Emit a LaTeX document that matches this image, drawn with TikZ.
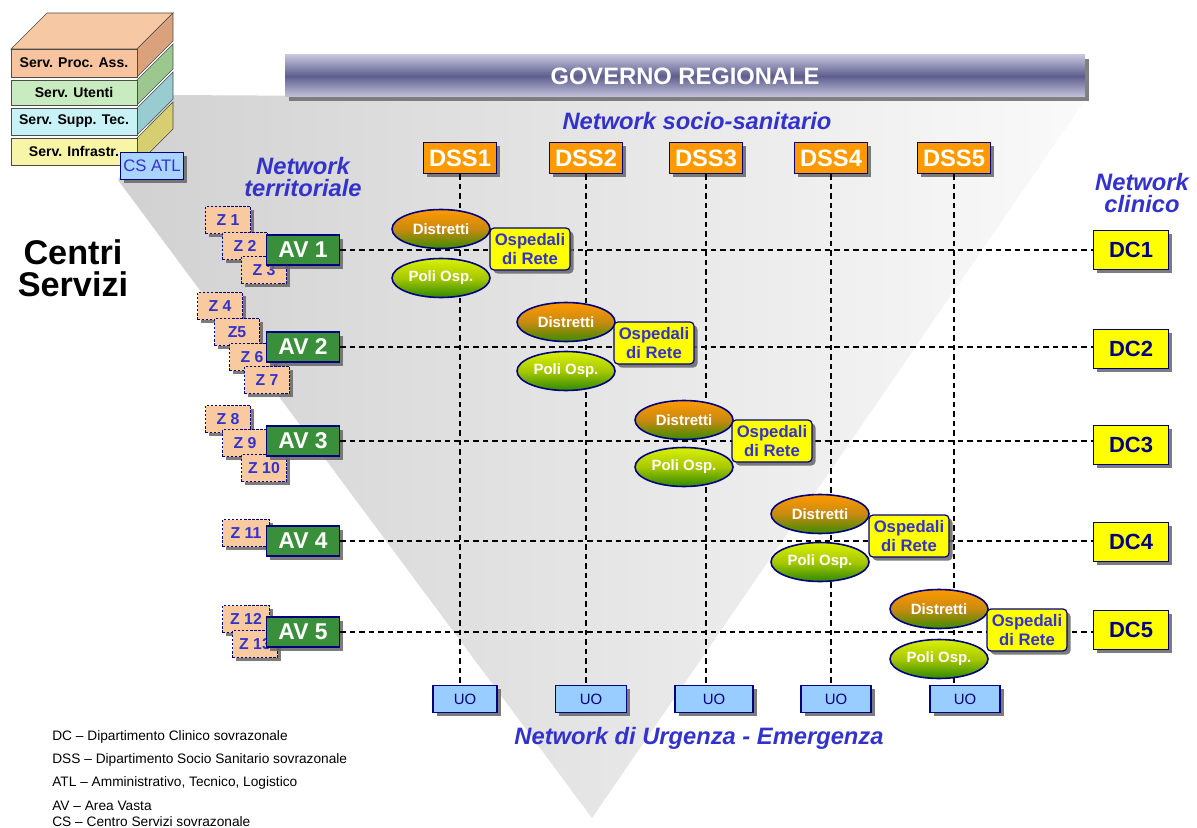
\documentclass[tikz,border=0pt]{standalone}
\usepackage{fontspec}
\setmainfont{Liberation Sans}
\usetikzlibrary{shapes.geometric,shadows,calc}
\definecolor{tblue}{HTML}{3333CC}
\definecolor{navy}{HTML}{000080}
\definecolor{dssor}{HTML}{FF9900}
\definecolor{avgreen}{HTML}{3A8F3A}
\definecolor{zpeach}{HTML}{F9C9A0}
\definecolor{uoblue}{HTML}{99CCFF}
\definecolor{csblue}{HTML}{A8D4FF}
\definecolor{dyellow}{HTML}{FFFF00}
\definecolor{dtop}{HTML}{FF9900}
\definecolor{dmid}{HTML}{C88A10}
\definecolor{dbot}{HTML}{3A8C00}
\definecolor{ptop}{HTML}{D8F000}
\definecolor{pmid}{HTML}{A8C800}
\definecolor{pbot}{HTML}{2E8A00}
\definecolor{bannerA}{HTML}{C4C4DC}
\definecolor{bannerB}{HTML}{5E5E8E}
\definecolor{lproc}{HTML}{F8C4A0}
\definecolor{lprocs}{HTML}{D9A27C}
\definecolor{luten}{HTML}{C8EBC0}
\definecolor{lutens}{HTML}{9CC890}
\definecolor{lsupp}{HTML}{C8F2F6}
\definecolor{lsupps}{HTML}{98CCD0}
\definecolor{linfr}{HTML}{F8F4A8}
\definecolor{linfrs}{HTML}{D6CE70}
\definecolor{ltop}{HTML}{F6C8A4}
\tikzset{
  sh/.style={drop shadow={shadow xshift=0.07cm,shadow yshift=-0.07cm,fill=black!60,opacity=0.85}},
  dssbox/.style={sh,fill=dssor,draw=navy,line width=0.6pt,text=white,font=\bfseries\fontsize{13.5}{14}\selectfont,minimum width=73*0.02cm,minimum height=31*0.02cm,inner sep=0pt},
  avbox/.style={sh,fill=avgreen,draw=navy,line width=0.9pt,text=white,font=\bfseries\fontsize{13}{14}\selectfont,minimum width=73*0.02cm,minimum height=30*0.02cm,inner sep=0pt},
  zbox/.style={sh,fill=zpeach,draw=navy,line width=0.7pt,dash pattern=on 1.5pt off 0.8pt,text=tblue,font=\bfseries\fontsize{9}{10}\selectfont,minimum width=45*0.02cm,minimum height=27*0.02cm,inner sep=0pt},
  dcbox/.style={sh,fill=dyellow,draw=navy,line width=0.7pt,text=navy,font=\bfseries\fontsize{12.5}{13}\selectfont,minimum width=75*0.02cm,minimum height=39*0.02cm,inner sep=0pt},
  ospbox/.style={sh,fill=dyellow,draw=navy,line width=0.7pt,rounded corners=0.08cm,text=tblue,font=\bfseries\fontsize{9.5}{11.3}\selectfont,align=center,minimum width=80*0.02cm,minimum height=42*0.02cm,inner sep=0pt},
  distr/.style={ellipse,draw=navy,line width=0.9pt,top color=dtop,bottom color=dbot,middle color=dmid,text=white,font=\bfseries\fontsize{8.5}{9}\selectfont,minimum width=98*0.02cm,minimum height=39*0.02cm,inner sep=0pt},
  poli/.style={ellipse,draw=navy,line width=0.9pt,top color=ptop,bottom color=pbot,middle color=pmid,text=white,font=\bfseries\fontsize{8.5}{9}\selectfont,minimum width=98*0.02cm,minimum height=39*0.02cm,inner sep=0pt},
  uobox/.style={sh,fill=uoblue,draw=navy,line width=0.7pt,text=navy,font=\fontsize{8.5}{9}\selectfont,minimum height=27*0.02cm,inner sep=0pt},
  ntext/.style={text=tblue,font=\bfseries\itshape\fontsize{13.5}{13.5}\selectfont,inner sep=0pt},
  dline/.style={dash pattern=on 0.11cm off 0.08cm,line width=0.6pt},
  layer/.style={draw=black!70,line width=0.4pt,font=\bfseries\fontsize{8}{9}\selectfont,minimum width=126*0.02cm,minimum height=27*0.02cm,inner sep=0pt},
  legend/.style={anchor=base west,font=\fontsize{7.8}{8}\selectfont,inner sep=0pt}
}
\begin{document}
\begin{tikzpicture}[x=0.02cm,y=-0.02cm]
\useasboundingbox (0,0) rectangle (1197,828);
\fill[white] (0,0) rectangle (1197,828);
% grey cone
\shade[left color=gray!36,right color=gray!4] (118,180) -- (165,95) -- (1085,100) -- (592,818) -- cycle;

% stack of service layers
\fill[ltop,draw=black!70,line width=0.4pt] (11,49) -- (137,49) -- (173,13) -- (47,13) -- cycle;
\fill[lprocs,draw=black!70,line width=0.4pt] (137,49) -- (173,13) -- (173,41) -- (137,77) -- cycle;
\fill[lutens,draw=black!70,line width=0.4pt] (137,80) -- (173,44) -- (173,69) -- (137,105) -- cycle;
\fill[lsupps,draw=black!70,line width=0.4pt] (137,108) -- (173,72) -- (173,99) -- (137,135) -- cycle;
\fill[linfrs,draw=black!70,line width=0.4pt] (137,138) -- (173,102) -- (173,129) -- (137,165) -- cycle;
\node[layer,fill=lproc,minimum height=28*0.02cm] (proc) at (74,63) {Serv. Proc. Ass.};
\node[layer,fill=luten,minimum height=25*0.02cm] (uten) at (74,92.5) {Serv. Utenti};
\node[layer,fill=lsupp] (supp) at (74,121.5) {Serv. Supp. Tec.};
\node[layer,fill=linfr] (infr) at (74,151.5) {Serv. Infrastr.};
\node[sh,fill=csblue,draw=navy,line width=0.7pt,text=tblue,font=\fontsize{9.5}{10}\selectfont,minimum width=63*0.02cm,minimum height=27*0.02cm,inner sep=0pt] (csatl) at (152,166) {CS ATL};

% Centri Servizi
\node[font=\bfseries\fontsize{19.5}{18}\selectfont,align=center,inner sep=0pt] (centri) at (73,268) {Centri\\Servizi};

% banner
\node[drop shadow={shadow xshift=0.08cm,shadow yshift=-0.08cm,fill=black!55,opacity=0.9},top color=bannerA,bottom color=bannerA,middle color=bannerB,text=white,font=\bfseries\fontsize{13.5}{14}\selectfont,minimum width=800*0.02cm,minimum height=42*0.02cm,inner sep=0pt] (gov) at (685,76) {GOVERNO REGIONALE};

% network titles
\node[ntext] (nss) at (697,121) {Network socio-sanitario};
\node[ntext,align=center,font=\bfseries\itshape\fontsize{13.5}{12.5}\selectfont] (nterr) at (303,177) {Network\\territoriale};
\node[ntext,align=center,font=\bfseries\itshape\fontsize{13.5}{13}\selectfont] (nclin) at (1142,193) {Network\\clinico};
\node[ntext] (nurg) at (699,738) {Network di Urgenza - Emergenza};

% DSS boxes
\node[dssbox] (dss1) at (460,158) {DSS1};
\node[dssbox] (dss2) at (586,158) {DSS2};
\node[dssbox] (dss3) at (706,158) {DSS3};
\node[dssbox] (dss4) at (831,158) {DSS4};
\node[dssbox] (dss5) at (954,158) {DSS5};

% UO boxes
\node[uobox,minimum width=64*0.02cm] (uo1) at (465,699) {UO};
\node[uobox,minimum width=71*0.02cm] (uo2) at (591,699) {UO};
\node[uobox,minimum width=78*0.02cm] (uo3) at (714,699) {UO};
\node[uobox,minimum width=70*0.02cm] (uo4) at (836,699) {UO};
\node[uobox,minimum width=70*0.02cm] (uo5) at (965,699) {UO};

% DC boxes
\node[dcbox] (dc1) at (1131,250) {DC1};
\node[dcbox] (dc2) at (1131,349) {DC2};
\node[dcbox] (dc3) at (1131,445) {DC3};
\node[dcbox] (dc4) at (1131,542) {DC4};
\node[dcbox] (dc5) at (1131,630) {DC5};

% Z boxes
\node[zbox] (z1) at (228,220) {Z 1};
\node[zbox] (z2) at (245,246) {Z 2};
\node[zbox] (z3) at (264,270) {Z 3};
\node[zbox] (z4) at (220,306) {Z 4};
\node[zbox] (z5) at (237,332) {Z5};
\node[zbox] (z6) at (252,357) {Z 6};
\node[zbox] (z7) at (267,380) {Z 7};
\node[zbox] (z8) at (228,419) {Z 8};
\node[zbox] (z9) at (245,443) {Z 9};
\node[zbox] (z10) at (264,468) {Z 10};
\node[zbox,minimum width=47*0.02cm] (z11) at (246,533) {Z 11};
\node[zbox,minimum width=47*0.02cm] (z12) at (246,619) {Z 12};
\node[zbox] (z13) at (255,644) {Z 13};

% AV boxes
\node[avbox] (av1) at (303,250) {AV 1};
\node[avbox] (av2) at (303,347) {AV 2};
\node[avbox] (av3) at (303,441) {AV 3};
\node[avbox] (av4) at (303,541) {AV 4};
\node[avbox] (av5) at (303,632) {AV 5};

% connectors
\draw[dline] (av1.east) -- (av1.east -| dc1.west);
\draw[dline] (av2.east) -- (av2.east -| dc2.west);
\draw[dline] (av3.east) -- (av3.east -| dc3.west);
\draw[dline,line width=1.3pt] (av4.east) -- (av4.east -| dc4.west);
\draw[dline] (av5.east) -- (av5.east -| dc5.west);
\draw[dline] (dss1.south) -- (dss1.south |- uo1.north);
\draw[dline] (dss2.south) -- (dss2.south |- uo2.north);
\draw[dline] (dss3.south) -- (dss3.south |- uo3.north);
\draw[dline] (dss4.south) -- (dss4.south |- uo4.north);
\draw[dline] (dss5.south) -- (dss5.south |- uo5.north);

% hospital groups
\node[distr] (d1) at (441,229) {Distretti};
\node[poli] (p1) at (441,278) {Poli Osp.};
\node[ospbox] (o1) at (530,249) {Ospedali\\di Rete};
\node[distr] (d2) at (566,322) {Distretti};
\node[poli] (p2) at (566,371) {Poli Osp.};
\node[ospbox] (o2) at (654,343) {Ospedali\\di Rete};
\node[distr] (d3) at (684,420) {Distretti};
\node[poli] (p3) at (684,467) {Poli Osp.};
\node[ospbox] (o3) at (772,441) {Ospedali\\di Rete};
\node[distr] (d4) at (820,514) {Distretti};
\node[poli] (p4) at (820,562) {Poli Osp.};
\node[ospbox] (o4) at (909,536) {Ospedali\\di Rete};
\node[distr] (d5) at (939,609) {Distretti};
\node[poli] (p5) at (939,659) {Poli Osp.};
\node[ospbox] (o5) at (1027,630) {Ospedali\\di Rete};

% legend
\node[legend] (l1) at (52,740) {DC -- Dipartimento Clinico sovrazonale};
\node[legend] (l2) at (52,763) {DSS -- Dipartimento Socio Sanitario sovrazonale};
\node[legend] (l3) at (52,786) {ATL -- Amministrativo, Tecnico, Logistico};
\node[legend] (l4) at (52,810) {AV -- Area Vasta};
\node[legend] (l5) at (52,826) {CS -- Centro Servizi sovrazonale};
\end{tikzpicture}
\end{document}
